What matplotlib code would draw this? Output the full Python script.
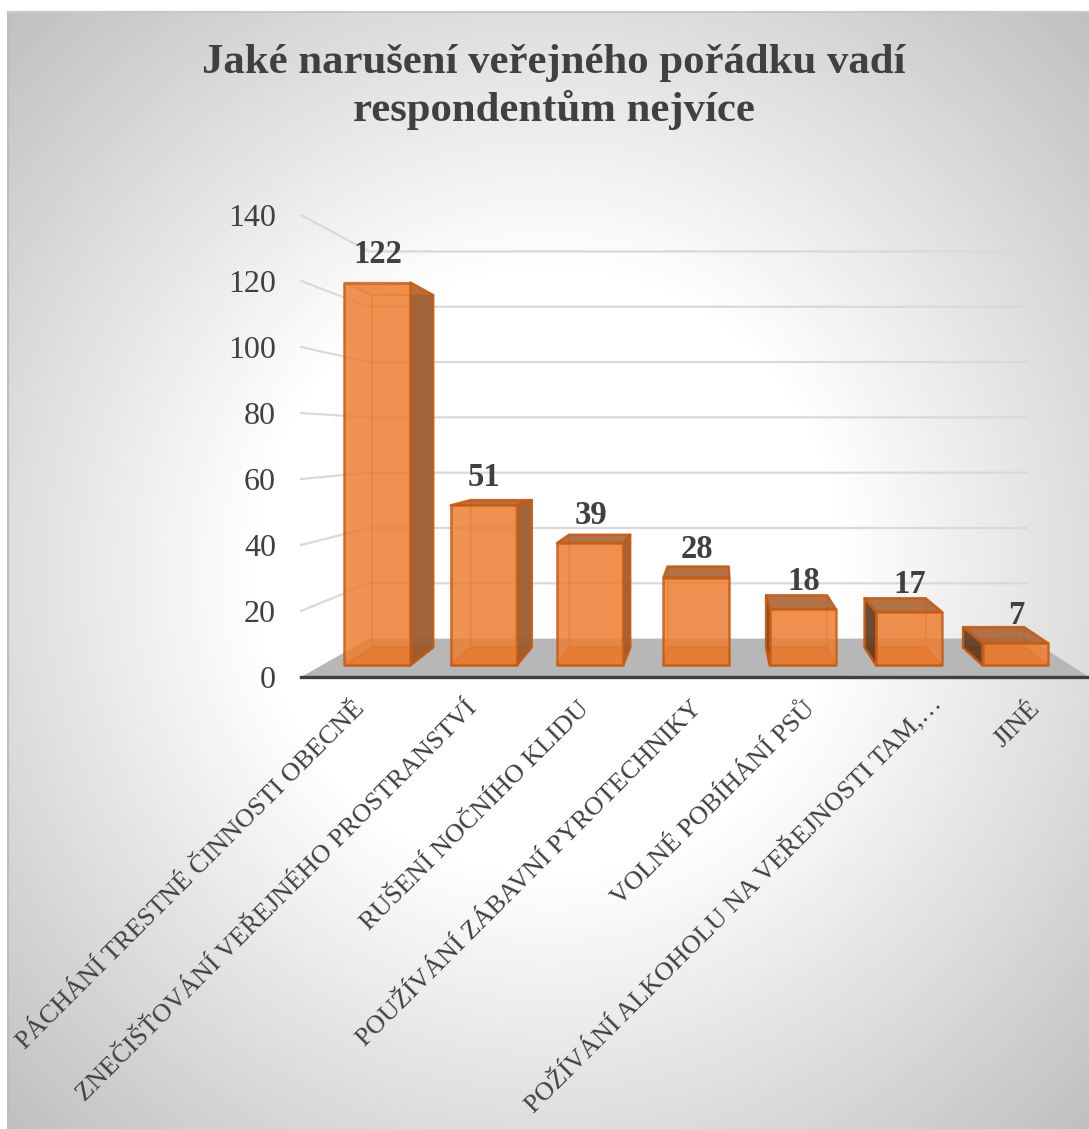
import numpy as np
import matplotlib
matplotlib.use('Agg')
import matplotlib.pyplot as plt
from matplotlib.patches import Polygon
from matplotlib.transforms import ScaledTranslation

plt.rcParams['font.family'] = ['Liberation Serif', 'DejaVu Serif']

categories = [
    'PÁCHÁNÍ TRESTNÉ ČINNOSTI OBECNĚ',
    'ZNEČIŠŤOVÁNÍ VEŘEJNÉHO PROSTRANSTVÍ',
    'RUŠENÍ NOČNÍHO KLIDU',
    'POUŽÍVÁNÍ ZÁBAVNÍ PYROTECHNIKY',
    'VOLNÉ POBÍHÁNÍ PSŮ',
    'POŽÍVÁNÍ ALKOHOLU NA VEŘEJNOSTI TAM,…',
    'JINÉ',
]
values = [122, 51, 39, 28, 18, 17, 7]
y_ticks = [0, 20, 40, 60, 80, 100, 120, 140]
title = 'Jaké narušení veřejného pořádku vadí\nrespondentům nejvíce'

W, H = 1089, 1129
TEXT = '#404040'
ORANGE = '#ED7D31'
EDGE = '#C55A11'

fig = plt.figure(figsize=(W / 100, H / 100), dpi=100)
fig.patch.set_facecolor('white')

# background gradient, white in the middle and grey to the corners
bg = fig.add_axes([8 / W, 0, (W - 8) / W, (H - 12) / H])
yy, xx = np.mgrid[12:H, 8:W]
dist = np.hypot((xx - 548) / 540, (yy - 570) / 558) / np.sqrt(2)
shade = np.clip(0.89 + (0.65 - dist) * 0.4, 0, 1)
bg.imshow(shade, cmap='gray', vmin=0, vmax=1, aspect='auto')
bg.axis('off')
fig.add_artist(plt.Line2D([8 / W, 8 / W], [0, 1 - 12 / H], color='#bdbdbd', lw=1.5))
fig.add_artist(plt.Line2D([8 / W, 1], [1 - 12 / H, 1 - 12 / H], color='#c8c8c8', lw=1.5))

# axes plane: category 0..6 over x 301..1089, value 0..140 over y 677..215
ax = fig.add_axes([301 / W, 1 - 677 / H, (1089 - 301) / W, (677 - 215) / H])
ax.patch.set_alpha(0)
ax.set_xlim(-0.5, 6.5)
ax.set_ylim(0, 140)
for s in ['top', 'right', 'left']:
    ax.spines[s].set_visible(False)
ax.spines['bottom'].set_color(TEXT)
ax.spines['bottom'].set_linewidth(2.4)
ax.spines['bottom'].set_zorder(6)

# vanishing point in data coordinates, depth is a scale towards it (x, y)
vx = (720 - 301) / (788 / 7) - 0.5
vy = (677 - 440) / 3.3
PLANE = (1, 1)
FRONT = (0.945, 0.951)
BACK = (0.875, 0.875)
WALL = (0.838, 0.838)
BAR_W = 0.62


def proj(x, y, d):
    return vx + d[0] * (x - vx), vy + d[1] * (y - vy)


def face(points, **kw):
    ax.add_patch(Polygon(points, closed=True, clip_on=False, **kw))


# floor and walls
face([proj(-0.5, 0, PLANE), proj(-0.5, 0, WALL), proj(6.5, 0, WALL), proj(6.5, 0, PLANE)],
     facecolor='#b7b7b7', edgecolor='none', zorder=1)
for v in y_ticks[1:]:
    p0 = proj(-0.5, v, PLANE)
    p1 = proj(-0.5, v, WALL)
    p2 = proj(6.47, v, WALL)
    ax.plot([p0[0], p1[0], p2[0]], [p0[1], p1[1], p2[1]], color='#d9d9d9', lw=1.6,
            clip_on=False, zorder=1.5, solid_joinstyle='miter')

# bars
for i, v in enumerate(values):
    xl, xr = i - BAR_W / 2, i + BAR_W / 2
    fl0, fl1 = proj(xl, 0, FRONT), proj(xl, v, FRONT)
    fr0, fr1 = proj(xr, 0, FRONT), proj(xr, v, FRONT)
    bl0, bl1 = proj(xl, 0, BACK), proj(xl, v, BACK)
    br0, br1 = proj(xr, 0, BACK), proj(xr, v, BACK)
    z = 3 + i * 0.01
    style = dict(edgecolor=EDGE, linewidth=1.8, joinstyle='round')
    # back and bottom, seen through the front
    face([bl0, bl1, br1, br0], facecolor=ORANGE, alpha=0.25, zorder=z, edgecolor=EDGE, linewidth=1.5)
    face([fl0, bl0, br0, fr0], facecolor='#c96a2a', alpha=0.75, zorder=z, edgecolor=EDGE, linewidth=1.5)
    # sides, only the visible one is dark
    if bl0[0] < fl0[0]:
        face([fl0, fl1, bl1, bl0], facecolor='#5e3a22', alpha=0.9, zorder=z + 0.1, **style)
    else:
        face([fl0, fl1, bl1, bl0], facecolor=ORANGE, alpha=0.2, zorder=z + 0.1, edgecolor=EDGE, linewidth=1.2)
    if br0[0] > fr0[0]:
        face([fr0, fr1, br1, br0], facecolor='#9a5a30', alpha=0.92, zorder=z + 0.1, **style)
    else:
        face([fr0, fr1, br1, br0], facecolor=ORANGE, alpha=0.2, zorder=z + 0.1, edgecolor=EDGE, linewidth=1.2)
    # top, seen from above only on the low bars
    if bl1[1] > fl1[1]:
        face([fl1, bl1, br1, fr1], facecolor='#a8602f', alpha=0.85, zorder=z + 0.2, **style)
    else:
        face([fl1, bl1, br1, fr1], facecolor=ORANGE, alpha=0.3, zorder=z + 0.2, edgecolor=EDGE, linewidth=1.2)
    face([fl0, fl1, fr1, fr0], facecolor=ORANGE, alpha=0.8, zorder=z + 0.3, **style)
    # value label, a fixed distance over the front top edge
    lx, ly = proj(i, v, FRONT)
    ax.annotate(str(v), (lx, ly), xytext=(0.5, 20), textcoords='offset points', ha='center', va='center',
                fontsize=23.5, fontweight='bold', color=TEXT, zorder=8, annotation_clip=False)

ax.set_yticks(y_ticks)
ax.tick_params(axis='y', length=0, pad=18, labelsize=23, labelcolor=TEXT)
ax.set_xticks(range(len(categories)))
ax.tick_params(axis='x', length=0, pad=17)
ax.set_xticklabels(categories, rotation=45, ha='right', va='top', rotation_mode='anchor',
                   fontsize=19, color=TEXT)

# nudge the slanted labels, the cut label 6 sits further up the slant in the original
for i, lab in enumerate(ax.get_xticklabels()):
    dx, dy = (8, 11) if i == 5 else (-4, 3)
    lab.set_transform(lab.get_transform() + ScaledTranslation(dx / 100, dy / 100, fig.dpi_scale_trans))

fig.text(554 / W, 1 - 87 / H, title, ha='center', va='center', fontsize=30.8, fontweight='bold',
         color=TEXT, linespacing=1.23)

fig.savefig('out.png', dpi=100)
